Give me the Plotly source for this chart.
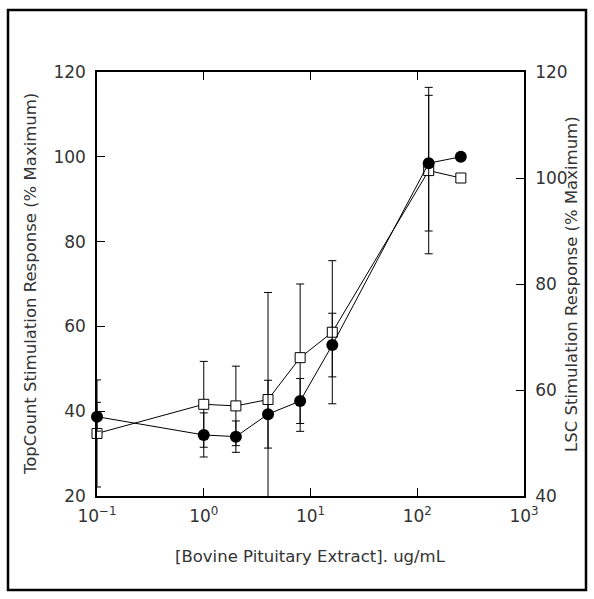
import plotly.graph_objects as go

# Data
conc = [0.1, 1, 2, 4, 8, 16, 128, 256]
topcount = [38.7, 34.4, 34.0, 39.3, 42.4, 55.6, 98.5, 100.0]
topcount_err = [3.4, 5.2, 3.7, 8.0, 5.3, 7.5, 16.0, 0]
lsc = [51.8, 57.3, 57.0, 58.2, 66.1, 70.9, 101.4, 100.0]
lsc_err = [10.1, 8.1, 7.5, 20.2, 13.9, 13.5, 15.7, 0]

x_tickvals = [0.1, 1, 10, 100, 1000]
x_ticktext = ["10<sup>−1</sup>", "10<sup>0</sup>", "10<sup>1</sup>", "10<sup>2</sup>", "10<sup>3</sup>"]
left_ticks = [20, 40, 60, 80, 100, 120]
right_ticks = [40, 60, 80, 100, 120]

FONT = "DejaVu Sans"
TXT = "#333333"

fig = go.Figure()

# LSC squares (right axis) drawn first
fig.add_trace(go.Scatter(
    x=conc, y=lsc, yaxis="y", mode="lines+markers", cliponaxis=False,
    line=dict(color="black", width=1),
    marker=dict(symbol="square", size=10, color="white", line=dict(color="black", width=1)),
    error_y=dict(type="data", array=lsc_err, color="black", thickness=1, width=4),
    showlegend=False,
))
# TopCount circles (left axis) drawn on top
fig.add_trace(go.Scatter(
    x=conc, y=topcount, yaxis="y2", mode="lines+markers", cliponaxis=False,
    line=dict(color="black", width=1),
    marker=dict(symbol="circle", size=12, color="black"),
    error_y=dict(type="data", array=topcount_err, color="black", thickness=1, width=4),
    showlegend=False,
))

axis_common = dict(showline=True, linecolor="black", linewidth=1.5, ticks="inside",
                   ticklen=8, tickcolor="black", tickwidth=1, showgrid=False, zeroline=False,
                   tickfont=dict(family=FONT, size=17, color=TXT))

fig.update_layout(
    width=594, height=599,
    margin=dict(l=97, r=70, t=72, b=103),
    paper_bgcolor="white", plot_bgcolor="white",
    xaxis=dict(type="log", range=[-1, 3], tickvals=x_tickvals, ticktext=x_ticktext,
               mirror="ticks", ticklabelstandoff=4, **axis_common),
    yaxis=dict(range=[40, 120], tickvals=right_ticks, side="right", anchor="x",
               ticklabelstandoff=6, **axis_common),
    yaxis2=dict(range=[20, 120], tickvals=left_ticks, side="left", overlaying="y",
                anchor="x", ticklabelstandoff=6, **axis_common),
    annotations=[
        dict(text="[Bovine Pituitary Extract]. ug/mL", xref="paper", yref="paper",
             x=0.5, y=(496 - 556) / 424, xanchor="center", yanchor="middle",
             showarrow=False, font=dict(family=FONT, size=16.5, color=TXT)),
        dict(text="TopCount Stimulation Response (% Maximum)", xref="paper", yref="paper",
             x=(30 - 97) / 427, y=0.5, xanchor="center", yanchor="middle", textangle=-90,
             showarrow=False, font=dict(family=FONT, size=16.5, color=TXT)),
        dict(text="LSC Stimulation Response (% Maximum)", xref="paper", yref="paper",
             x=(571 - 97) / 427, y=0.5, xanchor="center", yanchor="middle", textangle=-90,
             showarrow=False, font=dict(family=FONT, size=16.5, color=TXT)),
    ],
    shapes=[
        dict(type="rect", xref="paper", yref="paper",
             x0=(8 - 97) / 427, x1=(586 - 97) / 427,
             y0=(496 - 590) / 424, y1=(496 - 10) / 424,
             line=dict(color="black", width=2.5), fillcolor="rgba(0,0,0,0)", layer="below"),
    ],
)

fig.write_html("out.html", config={"displayModeBar": False})

# remove default page margin so the figure sits at the window origin
with open("out.html", "r", encoding="utf-8") as f:
    html = f.read()
html = html.replace("<head>", "<head><style>html,body{margin:0;padding:0;}</style>", 1)
with open("out.html", "w", encoding="utf-8") as f:
    f.write(html)
